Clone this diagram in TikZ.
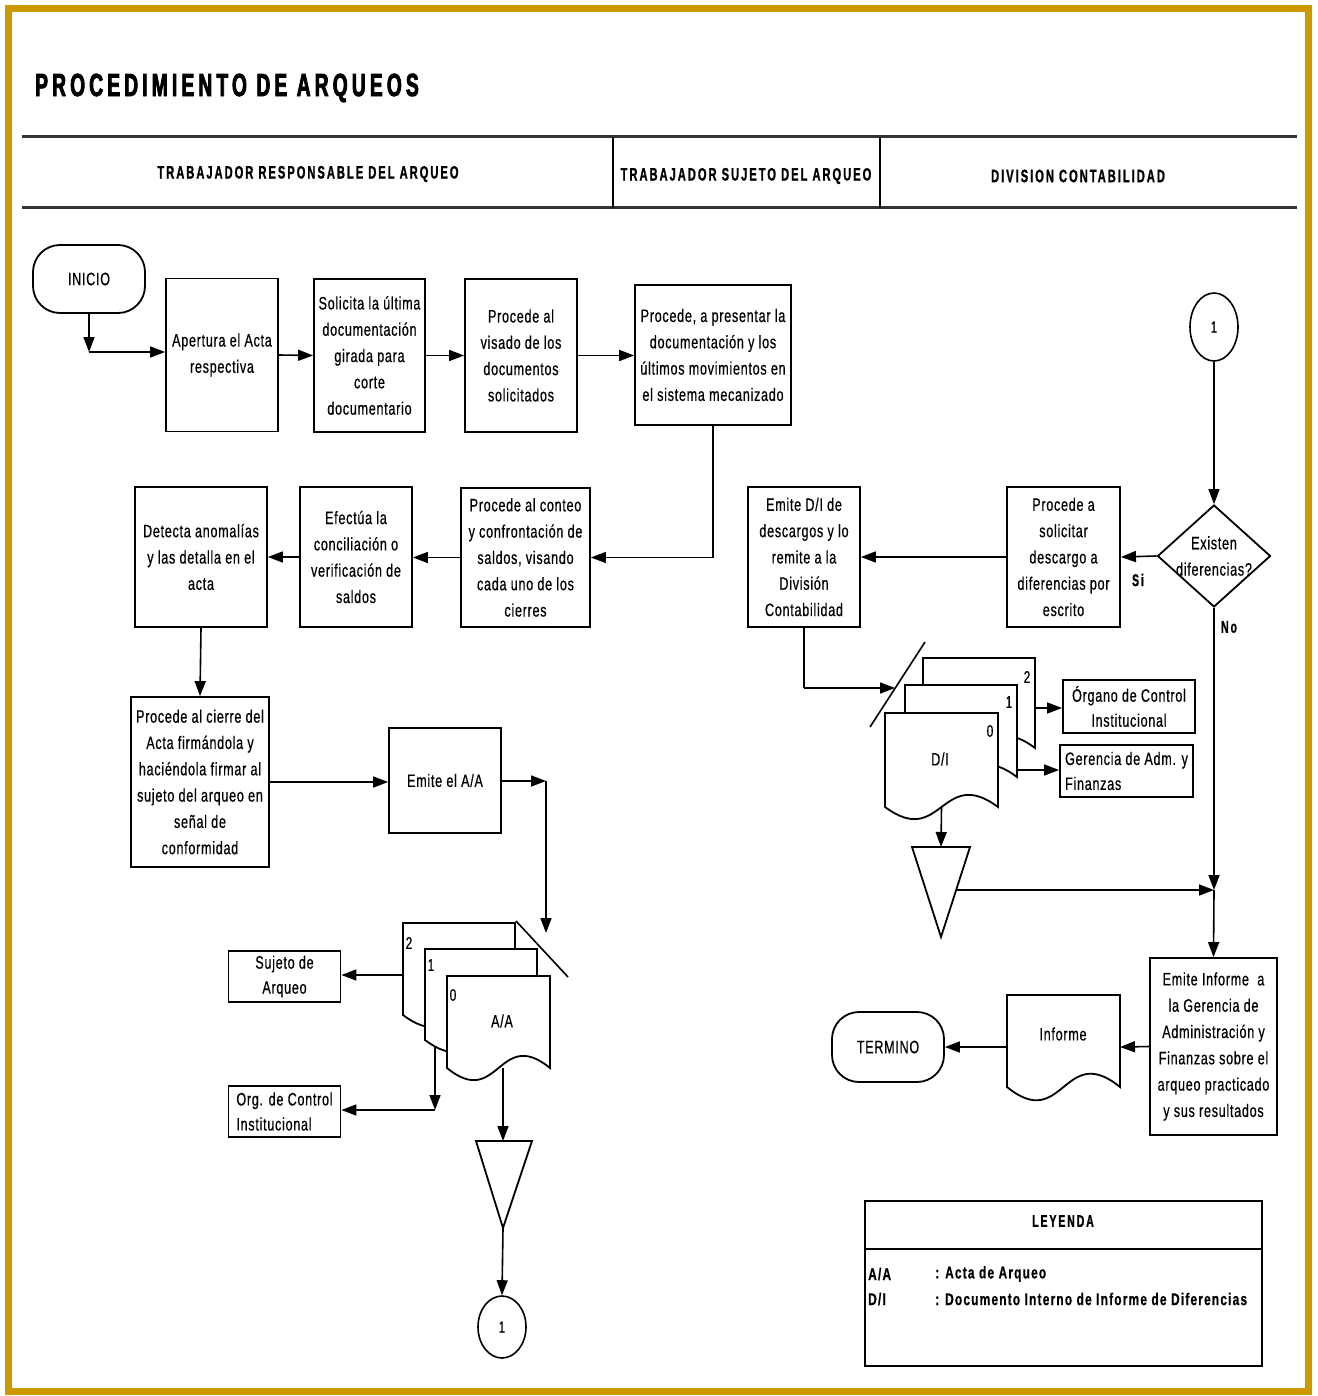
\documentclass[tikz,border=0pt]{standalone}
\usepackage{fontspec}
\setmainfont{Liberation Sans}
\newfontfamily\bxf{Liberation Sans}[FakeStretch=0.7,LetterSpace=4,FakeBold=0.5]
\newfontfamily\hdf{Liberation Sans}[FakeStretch=0.62,LetterSpace=11,FakeBold=1]
\newfontfamily\legf{Liberation Sans}[FakeStretch=0.7,LetterSpace=7,FakeBold=0.6]
\newfontfamily\ttlf{Liberation Sans}[FakeStretch=0.6,LetterSpace=13,FakeBold=2.5]
\usetikzlibrary{arrows.meta,shapes.geometric}
\definecolor{gold}{RGB}{204,153,0}
\newcommand\docshape[5]{% x1 y1 x2 yb c
  \draw[docst] (#1,#2) -- (#3,#2) -- (#3,#4) .. controls ({(#1+#3)/2},{#4-#5}) and ({(#1+#3)/2},{#4+#5}) .. (#1,#4) -- cycle;}
\begin{document}
\begin{tikzpicture}[x=1pt,y=-1pt,
  bfont/.style={font=\bxf\fontsize{18}{26.3}\selectfont},
  box/.style={draw, line width=1.8pt, fill=white, align=center, inner sep=1pt, bfont},
  term/.style={box, rounded corners=27pt},
  docst/.style={draw, line width=1.8pt, fill=white},
  conn/.style={line width=1.6pt},
  arr/.style={conn, -{Triangle[length=15pt,width=11pt]}},
  hdline/.style={line width=3pt, black!80},
  hdtext/.style={font=\hdf\bfseries\fontsize{18}{20}\selectfont},
  lbl/.style={font=\hdf\bfseries\fontsize{17}{20}\selectfont},
  num/.style={font=\bxf\fontsize{17}{18}\selectfont, inner sep=0pt},
  legt/.style={font=\legf\bfseries\fontsize{17}{20}\selectfont, anchor=west, inner sep=0pt}
]
\useasboundingbox (0,0) rectangle (1317,1396);
\fill[white] (0,0) rectangle (1317,1396);
\draw[gold, line width=7pt] (8,9) rectangle (1308,1391);

% title and header
\node[anchor=west, inner sep=0pt, font=\ttlf\bfseries\fontsize{32}{32}\selectfont] (title) at (35,88) {PROCEDIMIENTO DE ARQUEOS};
\draw[hdline] (22,137) -- (1297,137);
\draw[hdline] (22,208) -- (1297,208);
\draw[line width=1.3pt] (613,137) -- (613,208);
\draw[line width=1.3pt] (880,137) -- (880,208);
\node[hdtext] (h1) at (308,174) {TRABAJADOR RESPONSABLE DEL ARQUEO};
\node[hdtext] (h2) at (746,176) {TRABAJADOR SUJETO DEL ARQUEO};
\node[hdtext] (h3) at (1078,176) {DIVISION CONTABILIDAD};

% process nodes
\node[term, minimum width=112pt, minimum height=68pt] (inicio) at (89,279) {INICIO};
\node[box, minimum width=112pt, minimum height=153pt] (apertura) at (222,355) {Apertura el Acta\\respectiva};
\node[box, minimum width=111pt, minimum height=153pt] (solicita) at (369.5,355.5) {Solicita la última\\documentación\\girada para\\corte\\documentario};
\node[box, minimum width=112pt, minimum height=153pt] (visado) at (521,355.5) {Procede al\\visado de los\\documentos\\solicitados};
\node[box, minimum width=156pt, minimum height=140pt] (presentar) at (713,355) {Procede, a presentar la\\documentación y los\\últimos movimientos en\\el sistema mecanizado};
\node[box, minimum width=129pt, minimum height=139pt] (conteo) at (525.5,557.5) {Procede al conteo\\y confrontación de\\saldos, visando\\cada uno de los\\cierres};
\node[box, minimum width=112pt, minimum height=140pt] (efectua) at (356,557) {Efectúa la\\conciliación o\\verificación de\\saldos};
\node[box, minimum width=132pt, minimum height=140pt] (detecta) at (201,557) {Detecta anomalías\\y las detalla en el\\acta};
\node[box, minimum width=138pt, minimum height=170pt] (cierre) at (200,782) {Procede al cierre del\\Acta firmándola y\\haciéndola firmar al\\sujeto del arqueo en\\señal de\\conformidad};
\node[box, minimum width=112pt, minimum height=105pt] (emiteaa) at (445,780.5) {Emite el A/A};
\node[box, minimum width=112pt, minimum height=140pt] (emitedi) at (804,557) {Emite D/I de\\descargos y lo\\remite a la\\División\\Contabilidad};
\node[box, minimum width=113pt, minimum height=140pt] (solicitar) at (1063.5,557) {Procede a\\solicitar\\descargo a\\diferencias por\\escrito};
\node[box, minimum width=127pt, minimum height=177pt] (emiteinf) at (1213.5,1046.5) {Emite Informe\ \ a\\la Gerencia de\\Administración y\\Finanzas sobre el\\arqueo practicado\\y sus resultados};
\node[term, minimum width=112pt, minimum height=70pt] (termino) at (888,1047) {TERMINO};

% destination boxes
\node[box, minimum width=112pt, minimum height=51pt, font=\bxf\fontsize{18}{25}\selectfont] (sujeto) at (284.5,976.5) {Sujeto de\\Arqueo};
\node[box, minimum width=112pt, minimum height=51pt, align=left, font=\bxf\fontsize{18}{25}\selectfont] (org) at (284.5,1111.5) {Org. de Control\\Institucional};
\node[box, minimum width=132pt, minimum height=53pt, font=\bxf\fontsize{18}{25}\selectfont] (organo) at (1129,706.5) {Órgano de Control\\Institucional};
\node[box, minimum width=133pt, minimum height=52pt, align=left, font=\bxf\fontsize{18}{25}\selectfont] (gerencia) at (1126.5,771) {Gerencia de Adm. y\\Finanzas};

% connectors (1)
\node[ellipse, draw, line width=1.6pt, minimum width=48pt, minimum height=68pt, inner sep=0pt, font=\bxf\fontsize{16}{16}\selectfont] (c1top) at (1214,327) {1};
\node[ellipse, draw, line width=1.6pt, minimum width=48pt, minimum height=62pt, inner sep=0pt, font=\bxf\fontsize{16}{16}\selectfont] (c1bot) at (502,1327) {1};

% decision
\node[diamond, draw, line width=1.8pt, minimum width=113pt, minimum height=102pt, inner sep=0pt] (dia) at (1214,556) {};
\node[bfont, align=center, inner sep=0pt] (diatext) at (1214,556) {Existen\\diferencias?};

% A/A document stack
\docshape{403}{923}{515}{1015}{42}
\docshape{425}{949}{537}{1040}{42}
\docshape{447}{976}{550}{1068}{42}
\node[num] (aa2n) at (409,943) {2};
\node[num] (aa1n) at (431,965) {1};
\node[num] (aa0n) at (453,995) {0};
\node[bfont, inner sep=0pt] (aalabel) at (502,1021) {A/A};
\coordinate (aa2l) at (403,975);
\coordinate (aa1b) at (435,1046);
\coordinate (aa0b) at (503,1068);
\draw[conn] (516,921) -- (568,977);

% D/I document stack
\docshape{923}{658}{1035}{748}{42}
\docshape{905}{685}{1017}{777}{42}
\docshape{885}{713}{998}{807}{42}
\node[num] (di2n) at (1027,677) {2};
\node[num] (di1n) at (1009,702) {1};
\node[num] (di0n) at (990,731) {0};
\node[bfont, inner sep=0pt] (dilabel) at (940,759) {D/I};
\coordinate (di2r) at (1035,708);
\coordinate (di1r) at (1017,770);
\coordinate (di0b) at (941.5,807);
\draw[conn] (870,727) -- (925,642);

% Informe document
\docshape{1007}{995}{1120}{1087}{46}
\node[bfont, inner sep=0pt] (inflabel) at (1063,1034) {Informe};
\coordinate (infr) at (1120,1047);
\coordinate (infl) at (1007,1047);

% triangles
\draw[line width=1.8pt, fill=white] (476,1141) -- (532,1141) -- (503,1228) -- cycle;
\coordinate (triAt) at (503,1141);
\coordinate (triAb) at (503,1228);
\draw[line width=1.8pt, fill=white] (912,847) -- (970,847) -- (941,937) -- cycle;
\coordinate (triDt) at (941,847);
\coordinate (triDr) at (956,890);

% connectors
\coordinate (k0) at (89,352);
\draw[arr] (inicio.south) -- (k0);
\draw[arr] (k0) -- (apertura.west |- k0);
\draw[arr] (apertura.east) -- (solicita.west);
\draw[arr] (solicita.east) -- (visado.west);
\draw[arr] (visado.east) -- (presentar.west |- visado.east);
\draw[arr] (presentar.south) |- (conteo.east);
\draw[arr] (conteo.west) -- (efectua.east |- conteo.west);
\draw[arr] (efectua.west) -- (detecta.east);
\draw[arr] (detecta.south) -- (cierre.north);
\draw[arr] (cierre.east) -- (cierre.east -| emiteaa.west);
\coordinate (k1) at (546,781);
\coordinate (k2) at (546,933);
\draw[arr] (emiteaa.east |- k1) -- (k1);
\draw[arr] (k1) -- (k2);
\draw[arr] (aa2l) -- (sujeto.east |- aa2l);
\coordinate (k3) at (435,1110);
\draw[arr] (aa1b) -- (k3);
\draw[arr] (k3) -- (org.east |- k3);
\draw[arr] (aa0b) -- (triAt);
\draw[arr] (triAb) -- (c1bot.north);

\draw[arr] (c1top.south) -- (dia.north);
\draw[arr] (dia.west) -- (solicitar.east);
\node[lbl] (si) at (1138,580) {Si};
\draw[arr] (solicitar.west) -- (emitedi.east);
\coordinate (k4) at (804,688);
\coordinate (k5) at (895,688);
\draw[conn] (emitedi.south) -- (k4);
\draw[arr] (k4) -- (k5);
\draw[arr] (di2r) -- (organo.west |- di2r);
\draw[arr] (di1r) -- (gerencia.west |- di1r);
\draw[arr] (di0b) -- (triDt);
\coordinate (j1) at (1214,890);
\draw[arr] (dia.south) -- (j1);
\node[lbl] (no) at (1229,627) {No};
\draw[arr] (triDr) -- (j1);
\draw[arr] (j1) -- (emiteinf.north);
\draw[arr] (emiteinf.west) -- (infr);
\draw[arr] (infl) -- (termino.east);

% legend
\node[draw, line width=1.8pt, minimum width=397pt, minimum height=165pt, inner sep=0pt] (leg) at (1063.5,1283.5) {};
\draw[line width=2pt] (865,1249) -- (1262,1249);
\node[font=\hdf\bfseries\fontsize{17}{20}\selectfont] (legtitle) at (1063,1221) {LEYENDA};
\node[legt] (l1a) at (868,1274) {A/A};
\node[legt] (l1b) at (935,1274) {: Acta de Arqueo};
\node[legt] (l2a) at (868,1299) {D/I};
\node[legt] (l2b) at (935,1299) {: Documento Interno de Informe de Diferencias};
\end{tikzpicture}
\end{document}
